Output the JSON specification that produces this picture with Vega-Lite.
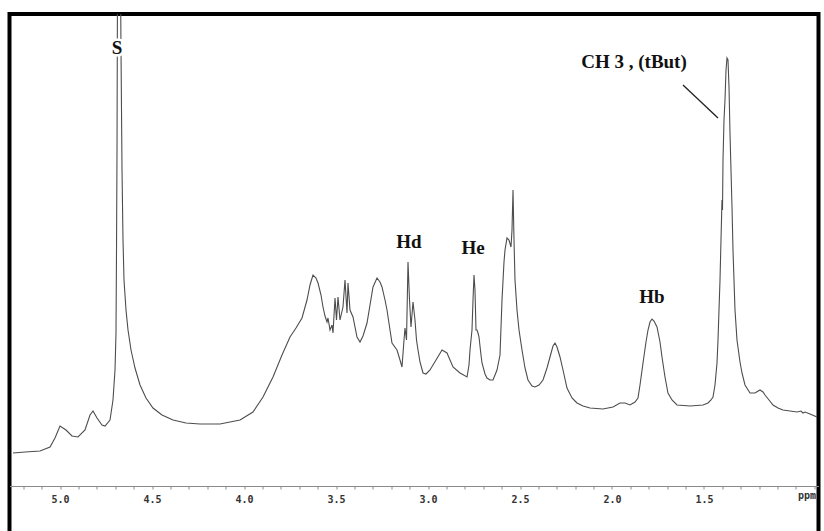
{
  "$schema": "https://vega.github.io/schema/vega-lite/v6.json",
  "width": 809,
  "height": 530,
  "autosize": {"type": "none"},
  "padding": {"left": 9.5, "top": 14, "right": 5, "bottom": 0},
  "background": "white",
  "config": {"view": {"stroke": "#000000", "strokeWidth": 4}},
  "datasets": {
    "spectrum": [
      {"ppm":5.2554,"i":33},{"ppm":5.1902,"i":34},{"ppm":5.1087,"i":35},{"ppm":5.0543,"i":39},{"ppm":5.0272,"i":48},
      {"ppm":5.0,"i":60},{"ppm":4.9674,"i":56},{"ppm":4.9348,"i":50},{"ppm":4.9022,"i":49},{"ppm":4.8641,"i":56},
      {"ppm":4.837,"i":71},{"ppm":4.8207,"i":75},{"ppm":4.7989,"i":68},{"ppm":4.7717,"i":61},{"ppm":4.7554,"i":60},
      {"ppm":4.7283,"i":66},{"ppm":4.712,"i":86},{"ppm":4.7011,"i":116},{"ppm":4.6957,"i":153},{"ppm":4.6929,"i":236},
      {"ppm":4.6902,"i":336},{"ppm":4.6875,"i":510},{"ppm":4.6807,"i":530},{"ppm":4.6712,"i":510},{"ppm":4.6685,"i":436},
      {"ppm":4.663,"i":316},{"ppm":4.6576,"i":246},{"ppm":4.6522,"i":206},{"ppm":4.6413,"i":176},{"ppm":4.6304,"i":156},
      {"ppm":4.6141,"i":136},{"ppm":4.5924,"i":118},{"ppm":4.5652,"i":101},{"ppm":4.5326,"i":88},{"ppm":4.4946,"i":78},
      {"ppm":4.4457,"i":71},{"ppm":4.3859,"i":66},{"ppm":4.3152,"i":63},{"ppm":4.2391,"i":62},{"ppm":4.1304,"i":62},
      {"ppm":4.0217,"i":66},{"ppm":3.9511,"i":74},{"ppm":3.8967,"i":89},{"ppm":3.8424,"i":109},{"ppm":3.7935,"i":131},
      {"ppm":3.75,"i":149},{"ppm":3.7174,"i":158},{"ppm":3.6848,"i":168},{"ppm":3.6576,"i":186},{"ppm":3.6413,"i":201},
      {"ppm":3.625,"i":211},{"ppm":3.6087,"i":208},{"ppm":3.5978,"i":203},{"ppm":3.5815,"i":191},{"ppm":3.5707,"i":179},
      {"ppm":3.5598,"i":170},{"ppm":3.5489,"i":164},{"ppm":3.5435,"i":168},{"ppm":3.5326,"i":156},{"ppm":3.5217,"i":161},
      {"ppm":3.5163,"i":153},{"ppm":3.5054,"i":188},{"ppm":3.4973,"i":166},{"ppm":3.4891,"i":189},{"ppm":3.4783,"i":166},
      {"ppm":3.462,"i":179},{"ppm":3.4511,"i":206},{"ppm":3.4402,"i":173},{"ppm":3.4348,"i":203},{"ppm":3.4239,"i":176},
      {"ppm":3.4076,"i":169},{"ppm":3.3859,"i":149},{"ppm":3.3696,"i":144},{"ppm":3.3533,"i":150},{"ppm":3.3315,"i":163},
      {"ppm":3.3152,"i":181},{"ppm":3.2989,"i":199},{"ppm":3.2772,"i":208},{"ppm":3.2609,"i":204},{"ppm":3.25,"i":199},
      {"ppm":3.2337,"i":186},{"ppm":3.2228,"i":176},{"ppm":3.2065,"i":156},{"ppm":3.1957,"i":143},{"ppm":3.1685,"i":136},
      {"ppm":3.1522,"i":126},{"ppm":3.1413,"i":119},{"ppm":3.1304,"i":146},{"ppm":3.125,"i":158},{"ppm":3.1168,"i":146},
      {"ppm":3.1087,"i":224},{"ppm":3.1005,"i":186},{"ppm":3.0924,"i":159},{"ppm":3.0815,"i":184},{"ppm":3.0707,"i":166},
      {"ppm":3.0625,"i":146},{"ppm":3.0543,"i":136},{"ppm":3.0435,"i":124},{"ppm":3.0272,"i":113},{"ppm":3.0109,"i":112},
      {"ppm":2.9891,"i":116},{"ppm":2.9565,"i":126},{"ppm":2.9239,"i":136},{"ppm":2.8967,"i":133},{"ppm":2.8804,"i":126},
      {"ppm":2.8641,"i":119},{"ppm":2.8261,"i":113},{"ppm":2.788,"i":109},{"ppm":2.7772,"i":121},{"ppm":2.7717,"i":136},
      {"ppm":2.7663,"i":146},{"ppm":2.7609,"i":156},{"ppm":2.7554,"i":186},{"ppm":2.75,"i":211},{"ppm":2.7446,"i":196},
      {"ppm":2.7391,"i":156},{"ppm":2.7337,"i":156},{"ppm":2.7283,"i":153},{"ppm":2.7228,"i":149},{"ppm":2.712,"i":131},
      {"ppm":2.7065,"i":123},{"ppm":2.6902,"i":112},{"ppm":2.6793,"i":108},{"ppm":2.663,"i":106},{"ppm":2.6467,"i":106},
      {"ppm":2.625,"i":116},{"ppm":2.6087,"i":131},{"ppm":2.5978,"i":186},{"ppm":2.587,"i":224},{"ppm":2.5815,"i":236},
      {"ppm":2.5707,"i":248},{"ppm":2.5598,"i":246},{"ppm":2.5489,"i":239},{"ppm":2.5435,"i":256},{"ppm":2.538,"i":296},
      {"ppm":2.5326,"i":246},{"ppm":2.5272,"i":206},{"ppm":2.5163,"i":176},{"ppm":2.5054,"i":156},{"ppm":2.4891,"i":136},
      {"ppm":2.4728,"i":118},{"ppm":2.4565,"i":106},{"ppm":2.4348,"i":100},{"ppm":2.4185,"i":99},{"ppm":2.3967,"i":101},
      {"ppm":2.375,"i":106},{"ppm":2.3533,"i":118},{"ppm":2.337,"i":129},{"ppm":2.3207,"i":140},{"ppm":2.3098,"i":143},
      {"ppm":2.2989,"i":139},{"ppm":2.2826,"i":129},{"ppm":2.2663,"i":116},{"ppm":2.2446,"i":98},{"ppm":2.2174,"i":88},
      {"ppm":2.1902,"i":83},{"ppm":2.1576,"i":80},{"ppm":2.1196,"i":78},{"ppm":2.0489,"i":77},{"ppm":1.9946,"i":79},
      {"ppm":1.9565,"i":83},{"ppm":1.9293,"i":83},{"ppm":1.9022,"i":81},{"ppm":1.875,"i":84},{"ppm":1.8587,"i":88},
      {"ppm":1.8478,"i":101},{"ppm":1.8315,"i":123},{"ppm":1.8152,"i":144},{"ppm":1.8043,"i":156},{"ppm":1.7935,"i":164},
      {"ppm":1.7826,"i":167},{"ppm":1.7717,"i":165},{"ppm":1.7554,"i":159},{"ppm":1.7391,"i":144},{"ppm":1.7283,"i":129},
      {"ppm":1.712,"i":109},{"ppm":1.6957,"i":93},{"ppm":1.6739,"i":86},{"ppm":1.6467,"i":81},{"ppm":1.5761,"i":80},
      {"ppm":1.5054,"i":81},{"ppm":1.4783,"i":83},{"ppm":1.462,"i":86},{"ppm":1.4511,"i":89},{"ppm":1.4402,"i":101},
      {"ppm":1.4293,"i":123},{"ppm":1.4239,"i":146},{"ppm":1.4185,"i":176},{"ppm":1.413,"i":206},{"ppm":1.4076,"i":246},
      {"ppm":1.4022,"i":286},{"ppm":1.3995,"i":276},{"ppm":1.3967,"i":326},{"ppm":1.3913,"i":366},{"ppm":1.3859,"i":386},
      {"ppm":1.3804,"i":416},{"ppm":1.375,"i":428},{"ppm":1.3696,"i":426},{"ppm":1.3641,"i":399},{"ppm":1.3587,"i":353},
      {"ppm":1.3533,"i":316},{"ppm":1.3478,"i":279},{"ppm":1.3424,"i":236},{"ppm":1.337,"i":206},{"ppm":1.3315,"i":176},
      {"ppm":1.3207,"i":146},{"ppm":1.3043,"i":124},{"ppm":1.2935,"i":113},{"ppm":1.2772,"i":101},{"ppm":1.25,"i":93},
      {"ppm":1.2228,"i":93},{"ppm":1.1957,"i":96},{"ppm":1.1793,"i":94},{"ppm":1.1685,"i":91},{"ppm":1.1467,"i":86},
      {"ppm":1.125,"i":81},{"ppm":1.0978,"i":78},{"ppm":1.0707,"i":76},{"ppm":1.0326,"i":75},{"ppm":0.9946,"i":74},
      {"ppm":0.9728,"i":75},{"ppm":0.962,"i":73},{"ppm":0.9511,"i":74},{"ppm":0.9239,"i":72},{"ppm":0.8859,"i":69}
    ],
    "labels": [
      {"ppm":4.6902,"i":438,"t":"S"},
      {"ppm":3.1033,"i":244,"t":"Hd"},
      {"ppm":2.7554,"i":238,"t":"He"},
      {"ppm":1.7826,"i":189,"t":"Hb"},
      {"ppm":1.8804,"i":424,"t":"CH 3 , (tBut)"}
    ],
    "leader": [{"ppm":1.6141,"i":401,"ppm2":1.4239,"i2":368}],
    "unit": [{"ppm":0.9402,"i":-10,"t":"ppm"}]
  },
  "encoding": {
    "x": {
      "field": "ppm", "type": "quantitative",
      "scale": {"domain": [0.8777, 5.2745], "reverse": true, "nice": false, "zero": false},
      "axis": {
        "title": null, "grid": false, "offset": -58, "tickCount": 44,
        "tickSize": 3, "tickColor": "#8a8a8a", "domainColor": "#8a8a8a", "domainWidth": 1,
        "labelFont": "DejaVu Sans Mono", "labelFontSize": 10, "labelFontWeight": "bold",
        "labelColor": "#333333", "labelPadding": 5, "labelOverlap": false, "labelFlush": false,
        "labelExpr": "datum.value > 1.2 && abs(datum.value*2 - round(datum.value*2)) < 0.01 ? format(datum.value, '.1f') : ''"
      }
    },
    "y": {
      "field": "i", "type": "quantitative",
      "scale": {"domain": [-58, 472], "nice": false, "zero": false},
      "axis": null
    }
  },
  "layer": [
    {
      "data": {"name": "spectrum"},
      "mark": {"type": "line", "stroke": "#4d4d4d", "strokeWidth": 1.1, "clip": true}
    },
    {
      "data": {"name": "leader"},
      "mark": {"type": "rule", "stroke": "#222222", "strokeWidth": 1.3},
      "encoding": {"x2": {"field": "ppm2"}, "y2": {"field": "i2"}}
    },
    {
      "data": {"name": "labels"},
      "mark": {"type": "text", "font": "Liberation Serif", "fontWeight": "bold", "fontSize": 19, "baseline": "middle", "align": "center", "stroke": "white", "strokeWidth": 5, "fill": "white"},
      "encoding": {"text": {"field": "t"}}
    },
    {
      "data": {"name": "labels"},
      "mark": {"type": "text", "font": "Liberation Serif", "fontWeight": "bold", "fontSize": 19, "baseline": "middle", "align": "center", "color": "#111111"},
      "encoding": {"text": {"field": "t"}}
    },
    {
      "data": {"name": "unit"},
      "mark": {"type": "text", "font": "DejaVu Sans Mono", "fontWeight": "bold", "fontSize": 10, "baseline": "middle", "align": "center", "color": "#333333"},
      "encoding": {"text": {"field": "t"}}
    }
  ]
}
